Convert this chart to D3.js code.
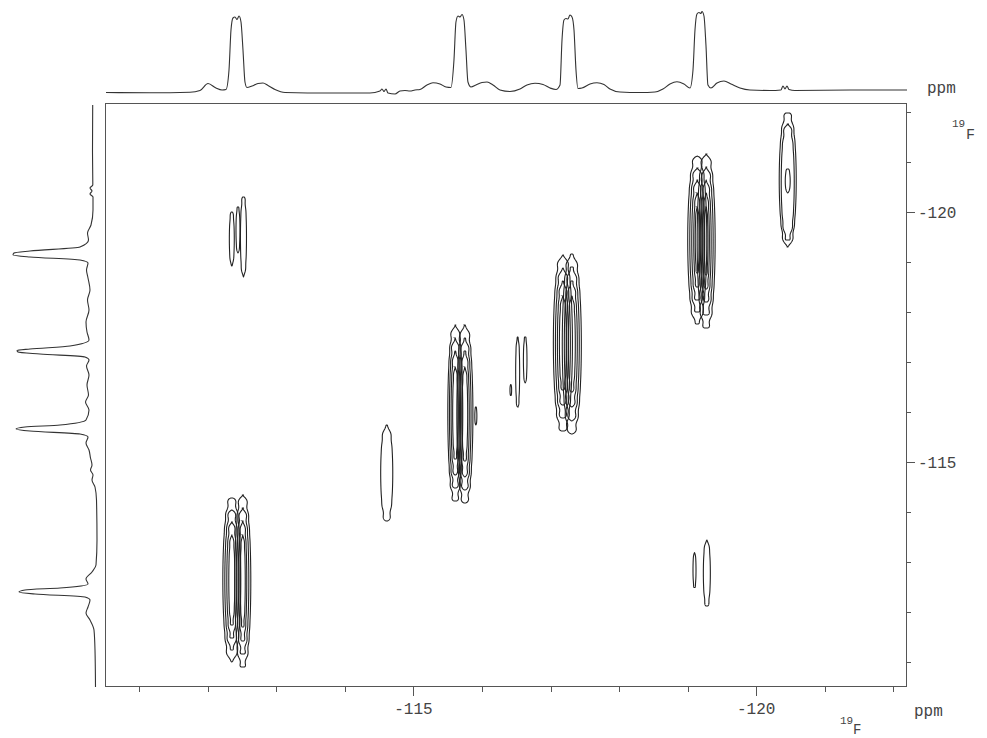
<!DOCTYPE html>
<html><head><meta charset="utf-8">
<script src="https://cdn.jsdelivr.net/npm/d3@7"></script>
<style>body{margin:0;background:#fff} svg{display:block}</style>
</head><body><svg id="chart" width="987" height="738"></svg>
<script>
// ---- axis data (ppm) ----
const xDomain = [-110.5, -122.2];
const yDomain = [-122.18, -110.5];
const tickValues = [-111,-112,-113,-114,-115,-116,-117,-118,-119,-120,-121,-122];
const labelTicks = [-115, -120];

// ---- 1D projection on top: [ppm, intensity] ----
const topTrace = [
[-110.515,0.5],[-111.156,0.2],[-111.740,0.7],[-111.886,2.5],[-112.003,9.5],[-112.119,5],[-112.207,3],[-112.265,3.5],
[-112.309,23],[-112.338,63],[-112.367,75],[-112.396,76],[-112.426,73.5],[-112.455,77],[-112.484,71],[-112.513,43],
[-112.542,11],[-112.571,5.5],[-112.644,7],[-112.732,9.5],[-112.805,10],[-112.878,7.5],[-112.980,3.5],[-113.126,0.5],
[-113.782,0],[-114.366,0],[-114.512,2],[-114.541,4],[-114.570,1.5],[-114.599,4],[-114.628,0],[-114.731,-1],
[-114.803,2],[-114.876,2.5],[-114.949,2],[-115.022,3],[-115.095,3.5],[-115.197,8],[-115.285,10.3],[-115.387,9],
[-115.475,6],[-115.547,5.5],[-115.591,33],[-115.620,71],[-115.650,77],[-115.679,76],[-115.708,78.5],[-115.737,73],
[-115.766,43],[-115.795,11],[-115.839,6],[-115.912,8],[-116.000,10.5],[-116.073,11],[-116.160,8],[-116.262,3],
[-116.408,1.5],[-116.554,4],[-116.656,8],[-116.773,9.7],[-116.890,8.5],[-116.992,5],[-117.079,3.5],[-117.138,8],
[-117.167,53],[-117.196,73],[-117.225,74.5],[-117.254,74],[-117.283,78],[-117.313,76],[-117.342,63],[-117.371,23],
[-117.400,4.5],[-117.458,5],[-117.575,9],[-117.677,10.3],[-117.779,8.5],[-117.867,4],[-118.013,1],[-118.305,0.5],
[-118.523,1],[-118.640,4],[-118.742,9],[-118.844,11.3],[-118.946,9],[-119.034,5],[-119.078,23],[-119.107,63],
[-119.136,79],[-119.165,80.5],[-119.194,79.5],[-119.209,81.5],[-119.238,77],[-119.267,48],[-119.296,8],[-119.340,5],
[-119.428,10],[-119.530,12],[-119.632,9],[-119.763,5],[-119.909,3],[-120.201,2.5],[-120.361,3],[-120.391,7],
[-120.420,4],[-120.449,7],[-120.478,3.5],[-120.566,2.5],[-121.368,3],[-122.200,3]
];

// ---- 1D projection on the left: [ppm, intensity] ----
const leftTrace = [
[-122.14,4.3],[-121.24,4.5],[-120.54,4.2],[-120.48,7],[-120.42,5],[-120.36,7],[-120.30,4],[-120.04,4],
[-119.74,6],[-119.58,9.5],[-119.44,8.5],[-119.30,17],[-119.22,67],[-119.18,83],[-119.14,84],[-119.10,67],
[-119.04,17],[-118.98,9],[-118.84,10.5],[-118.68,9],[-118.44,7],[-118.24,9.5],[-118.04,8],[-117.80,11],
[-117.60,10],[-117.44,8],[-117.32,27],[-117.26,67],[-117.23,80],[-117.20,79],[-117.16,57],[-117.10,12],
[-117.04,8],[-116.92,10.5],[-116.74,8],[-116.54,10],[-116.34,8.5],[-116.20,11.5],[-116.04,8],[-115.84,11],
[-115.74,37],[-115.70,72],[-115.66,81],[-115.62,67],[-115.56,17],[-115.50,9],[-115.38,11],[-115.24,8],
[-115.08,6.5],[-114.94,5],[-114.84,6.5],[-114.74,4],[-114.64,5],[-114.50,2],[-114.24,0.5],[-113.44,0],
[-112.94,1],[-112.80,5],[-112.66,11],[-112.56,9],[-112.48,37],[-112.44,72],[-112.40,78],[-112.36,62],
[-112.30,12],[-112.24,7],[-112.10,9],[-111.98,11],[-111.84,7],[-111.64,3],[-111.24,2],[-110.50,1.5]
];

// ---- 2D contour rings: [F2 ppm, F1 ppm, half-width F2, half-height F1] ----
const peakA = [
[-112.35,-112.64,0.131,1.64],[-112.35,-112.64,0.102,1.40],[-112.35,-112.64,0.073,1.16],[-112.35,-112.64,0.044,0.90],
[-112.51,-112.62,0.117,1.72],[-112.51,-112.62,0.088,1.46],[-112.51,-112.62,0.058,1.20],[-112.51,-112.62,0.036,0.92]
];
const peakB = [[-112.35,-119.46,0.036,0.54],[-112.44,-119.64,0.029,0.46],[-112.52,-119.50,0.044,0.80]];
const peakC = [[-114.61,-114.78,0.088,0.96]];
const peakD = [
[-115.61,-115.98,0.109,1.76],[-115.61,-115.98,0.085,1.50],[-115.61,-115.98,0.061,1.24],[-115.61,-115.98,0.038,0.92],
[-115.75,-115.96,0.117,1.78],[-115.75,-115.96,0.090,1.52],[-115.75,-115.96,0.064,1.26],[-115.75,-115.96,0.041,0.94],
[-115.91,-115.92,0.015,0.18]
];
const peakE = [[-116.52,-116.80,0.029,0.70],[-116.63,-117.04,0.026,0.46],[-116.42,-116.44,0.012,0.11]];
const peakF = [
[-117.18,-117.38,0.139,1.76],[-117.18,-117.38,0.109,1.50],[-117.18,-117.38,0.080,1.24],[-117.18,-117.38,0.051,0.94],
[-117.31,-117.36,0.139,1.80],[-117.31,-117.36,0.109,1.54],[-117.31,-117.36,0.080,1.26],[-117.31,-117.36,0.051,0.96]
];
const peakG = [
[-119.14,-119.44,0.139,1.68],[-119.14,-119.44,0.109,1.44],[-119.14,-119.44,0.080,1.20],[-119.14,-119.44,0.051,0.94],[-119.14,-119.44,0.029,0.66],
[-119.27,-119.42,0.131,1.74],[-119.27,-119.42,0.102,1.48],[-119.27,-119.42,0.073,1.22],[-119.27,-119.42,0.047,0.96],[-119.27,-119.42,0.026,0.68]
];
const peakH = [[-120.46,-120.64,0.124,1.34],[-120.46,-120.60,0.095,1.16],[-120.46,-120.62,0.036,0.24]];
const peakI = [[-119.28,-112.78,0.051,0.66],[-119.10,-112.84,0.022,0.35]];

const svg = d3.select("#chart");
const x = d3.scaleLinear().domain(xDomain).range([105, 907]);
const y = d3.scaleLinear().domain(yDomain).range([103, 687]);
const topY = d3.scaleLinear().domain([0, 80]).range([93, 13]);
const leftX = d3.scaleLinear().domain([0, 80]).range([97, 17]);

const font = "'Liberation Mono', 'DejaVu Sans Mono', monospace";
const ink = "#444";

// frame
svg.append("rect").attr("x",105.5).attr("y",103.5).attr("width",801).attr("height",583)
  .attr("fill","none").attr("stroke","#555").attr("stroke-width",1);

// bottom axis
const bAxis = svg.append("g").attr("transform","translate(0,687)");
bAxis.selectAll("line").data(tickValues).join("line")
  .attr("x1",d=>Math.round(x(d))+0.5).attr("x2",d=>Math.round(x(d))+0.5)
  .attr("y1",0).attr("y2",d=>labelTicks.includes(d)?9:5)
  .attr("stroke","#555");
bAxis.selectAll("text").data(labelTicks).join("text")
  .attr("x",d=>x(d)).attr("y",27).attr("text-anchor","middle")
  .attr("font-family",font).attr("font-size",16).attr("fill",ink).text(d=>d);

// right axis
const rAxis = svg.append("g").attr("transform","translate(907,0)");
rAxis.selectAll("line").data(tickValues).join("line")
  .attr("y1",d=>Math.round(y(d))+0.5).attr("y2",d=>Math.round(y(d))+0.5)
  .attr("x1",0).attr("x2",d=>labelTicks.includes(d)?8:4)
  .attr("stroke","#555");
rAxis.selectAll("text").data(labelTicks).join("text")
  .attr("x",11).attr("y",d=>y(d)+6)
  .attr("font-family",font).attr("font-size",16).attr("fill",ink).text(d=>d);

// unit labels
function addText(t,xx,yy,size){
  svg.append("text").attr("x",xx).attr("y",yy).attr("font-family",font)
    .attr("font-size",size).attr("fill",ink).text(t);
}
addText("ppm",927,93,16);
addText("19",952,127,11);
addText("F",966,139,15);
addText("ppm",914,716,16);
addText("19",840,724,11);
addText("F",853,734,14);

// projections
svg.append("path").datum(topTrace)
  .attr("d", d3.line().x(d=>x(d[0])).y(d=>topY(d[1])).curve(d3.curveMonotoneX))
  .attr("fill","none").attr("stroke","#333").attr("stroke-width",1.1);
svg.append("path").datum(leftTrace)
  .attr("d", d3.line().y(d=>y(d[0])).x(d=>leftX(d[1])).curve(d3.curveMonotoneY))
  .attr("fill","none").attr("stroke","#333").attr("stroke-width",1.1);

// contour rings (lens shaped, with a small ripple near the pointed ends)
function ringPath(r){
  const cx = x(r[0]), cy = y(r[1]);
  const rx = Math.abs(x(r[0]+r[2]) - cx), ry = Math.abs(y(r[1]+r[3]) - cy);
  const amp = Math.min(1.3, rx*0.22);
  const pts = [];
  const N = 200;
  for(let i=0;i<N;i++){
    const t = 2*Math.PI*i/N;
    const c = Math.cos(t), s = Math.sin(t);
    const dy = ry*s;
    let dx = rx*Math.sign(c)*Math.pow(Math.abs(c),0.85);
    dx += Math.sign(c)*amp*Math.pow(Math.abs(s),5)*Math.sin(dy/2.2);
    pts.push([cx+dx, cy+dy]);
  }
  return d3.line().curve(d3.curveLinearClosed)(pts);
}
const allRings = [].concat(peakA,peakB,peakC,peakD,peakE,peakF,peakG,peakH,peakI);
svg.append("g").selectAll("path").data(allRings).join("path")
  .attr("d", ringPath).attr("fill","none").attr("stroke","#222").attr("stroke-width",1.1);
</script></body></html>
